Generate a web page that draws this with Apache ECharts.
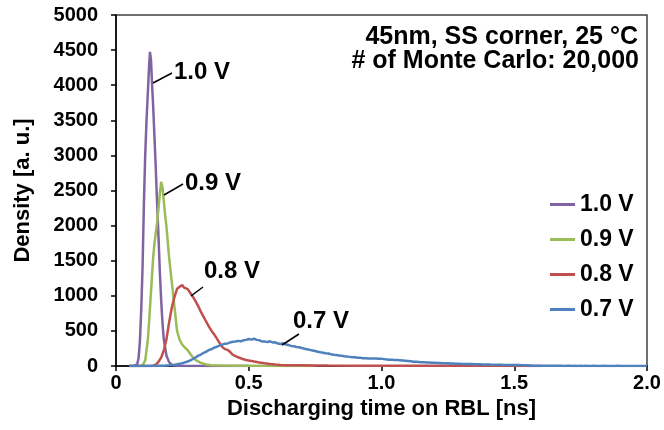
<!DOCTYPE html>
<html>
<head>
<meta charset="utf-8">
<script src="https://cdn.jsdelivr.net/npm/echarts@6/dist/echarts.min.js"></script>
<style>
html,body{margin:0;padding:0;background:#fff}
#main{width:664px;height:430px}
</style>
</head>
<body>
<div id="main"></div>
<script>
// discharging time [ns] / density [a. u.]
var t10 = [0.05,0.07,0.08,0.085,0.09,0.095,0.10,0.105,0.11,0.115,0.12,0.125,0.128,0.132,0.136,0.14,0.145,0.15,0.155,0.16,0.165,0.17,0.175,0.18,0.19,0.20,0.21,0.23,0.26,0.5];
var d10 = [0,2,30,110,350,800,1400,2300,3000,3500,3900,4300,4474,4350,4000,3700,3250,2800,2300,1850,1350,950,620,380,150,55,15,3,0,0];

var t09 = [0.05,0.09,0.10,0.11,0.12,0.125,0.13,0.135,0.14,0.145,0.15,0.155,0.16,0.165,0.17,0.175,0.18,0.185,0.19,0.20,0.21,0.22,0.23,0.24,0.25,0.26,0.27,0.28,0.29,0.30,0.32,0.34,0.36,0.40,0.45,0.50,0.60,0.75];
var d09 = [0,0,8,80,380,650,950,1250,1550,1750,1900,2050,2250,2450,2622,2550,2350,2150,1985,1550,1200,850,500,370,300,260,225,170,120,85,45,22,12,6,4,3,1,0];

var t08 = [0.05,0.13,0.14,0.15,0.16,0.17,0.18,0.19,0.20,0.21,0.22,0.23,0.24,0.25,0.255,0.26,0.27,0.28,0.29,0.30,0.31,0.32,0.33,0.34,0.35,0.36,0.37,0.38,0.39,0.40,0.41,0.42,0.43,0.44,0.45,0.46,0.47,0.48,0.49,0.50,0.52,0.54,0.56,0.58,0.60,0.62,0.65,0.70,0.75,0.80,0.90,1.00,1.20,1.40,1.57,1.60];
var d08 = [0,0,5,20,60,120,220,380,620,830,980,1100,1130,1154,1120,1140,1095,1040,985,920,850,770,700,630,560,500,450,390,330,272,240,230,200,160,140,125,110,95,85,78,65,50,38,28,20,14,12,10,8,6,5,4,3,2,1,0];

// 0.7 V histogram, bins of 0.01 ns starting at 0.05 ns
var start07 = 0.05, bin07 = 0.01;
var d07 = [0,0,0,0,0,1,0,1,1,2,1,
  2,3,5,8,11,15,19,25,32,40,
  52,64,80,100,122,148,163,188,204,228,
  240,262,275,290,305,318,322,336,345,350,
  358,352,366,372,384,376,388,372,366,350,
  348,340,352,336,338,320,314,324,306,298,
  286,280,272,268,256,246,238,230,222,214,
  204,196,190,182,178,168,160,158,150,146,
  138,134,130,126,124,118,116,112,110,108,
  108,106,108,104,102,98,94,90,88,86,
  84,82,78,74,70,66,62,60,58,55,
  54,50,50,46,46,44,42,40,39,38,
  36,35,33,33,31,30,29,28,27,26,
  25,24,23,22,22,20,19,19,18,17,
  16,16,15,15,14,14,13,12,11,9,
  7,5,4,4,3,3,3,2,3,2,
  2,2,2,1,2,2,1,2,1,2,
  1,2,1,1,2,1,1,1,2,1,
  1,1,1,2,1,1,1,1,1,1,
  1,1,1,1,1];

var names = ['1.0 V','0.9 V','0.8 V','0.7 V'];
var colors = ['#8064A2','#9BBB59','#C0504D','#4F81BD'];

function pairs(t,d){ return d.map(function(v,i){ return [t[i],v]; }); }
var data07 = d07.map(function(v,i){ return [+(start07+i*bin07).toFixed(2),v]; });
var seriesData = [pairs(t10,d10),pairs(t09,d09),pairs(t08,d08),data07];

var FONT = '"Liberation Sans", Arial, sans-serif';
var chart = echarts.init(document.getElementById('main'));

var series = names.map(function(n,i){
  return {
    name:n, type:'line', data:seriesData[i], symbol:'none', smooth:false,
    lineStyle:{color:colors[i],width:2.5}, itemStyle:{color:colors[i]},
    animation:false, z:2+i
  };
});

function txt(s,x,y,align,size){
  return {type:'text',z:50,style:{text:s,x:x,y:y,align:align||'left',verticalAlign:'middle',
    fontFamily:FONT,fontWeight:'bold',fontSize:size||24,fill:'#000'}};
}
function lead(x1,y1,x2,y2){
  return {type:'line',z:50,shape:{x1:x1,y1:y1,x2:x2,y2:y2},style:{stroke:'#000',lineWidth:1.5}};
}

chart.setOption({
  animation:false,
  backgroundColor:'#fff',
  grid:{left:116,right:17,top:15,bottom:64,show:true,borderColor:'#404040',borderWidth:1.5},
  legend:{
    orient:'vertical', left:550, top:193, padding:0, icon:'rect', itemWidth:25, itemHeight:3, itemGap:12,
    data:names, textStyle:{fontFamily:FONT,fontWeight:'bold',fontSize:23,color:'#000'}
  },
  xAxis:{
    type:'value', min:0, max:2, interval:0.5,
    name:'Discharging time on RBL [ns]', nameLocation:'middle', nameGap:32,
    nameTextStyle:{fontFamily:FONT,fontWeight:'bold',fontSize:22,color:'#000'},
    axisLine:{lineStyle:{color:'#000',width:1.5}},
    axisTick:{inside:false,length:5,lineStyle:{color:'#000',width:1.5}},
    axisLabel:{margin:7,fontFamily:FONT,fontWeight:'bold',fontSize:20,color:'#000',
      formatter:function(v){ return v===0?'0':v.toFixed(1); }},
    splitLine:{show:false}
  },
  yAxis:{
    type:'value', min:0, max:5000, interval:500,
    name:'Density [a. u.]', nameLocation:'middle', nameGap:82,
    nameTextStyle:{fontFamily:FONT,fontWeight:'bold',fontSize:22,color:'#000'},
    axisLine:{show:true,lineStyle:{color:'#000',width:1.5}},
    axisTick:{show:true,inside:false,length:5,lineStyle:{color:'#000',width:1.5}},
    axisLabel:{margin:18,fontFamily:FONT,fontWeight:'bold',fontSize:20,color:'#000',
      formatter:function(v){ return String(v); }},
    splitLine:{show:false}
  },
  graphic:[
    txt('45nm, SS corner, 25 °C',638,37,'right',25),
    txt('# of Monte Carlo: 20,000',639,61,'right',25),
    lead(153,83,172,73), txt('1.0 V',174,72),
    lead(164,195,183,184), txt('0.9 V',185,183),
    lead(191,296,203,287), txt('0.8 V',204,271),
    lead(282,345,299,334), txt('0.7 V',293,321)
  ],
  series:series
});
</script>
</body>
</html>
